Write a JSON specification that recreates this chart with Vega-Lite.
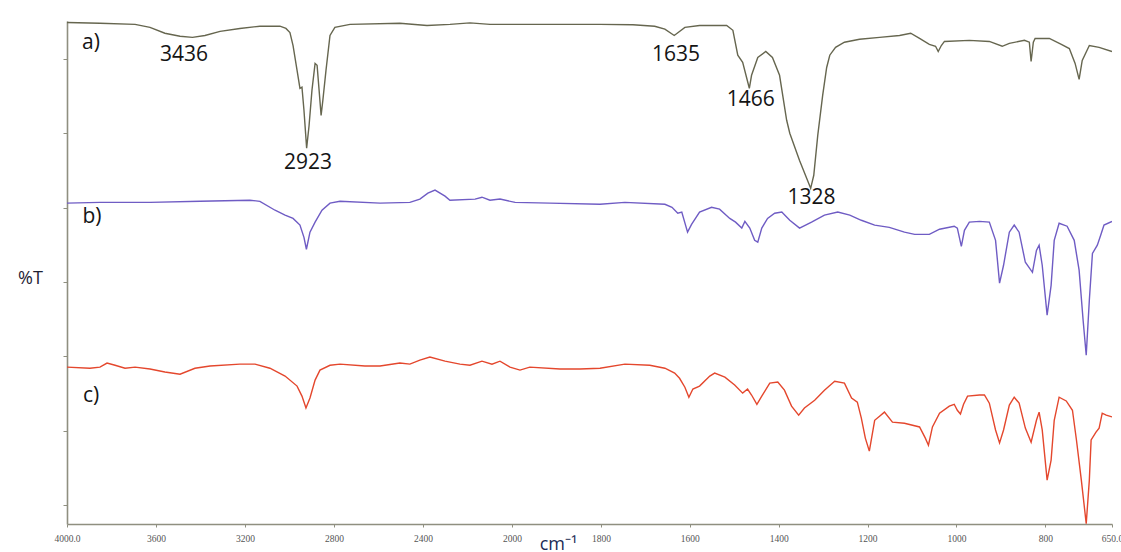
{
  "$schema": "https://vega.github.io/schema/vega-lite/v6.json",
  "width": 1045,
  "height": 503,
  "autosize": {"type": "none"},
  "padding": {"left": 67, "top": 21, "right": 9, "bottom": 28},
  "background": "white",
  "config": {
    "view": {"stroke": null},
    "axis": {"grid": false}
  },
  "datasets": {
    "spectra": [
      {"s":"a","wn":4000,"t":129.8},{"s":"a","wn":3852,"t":129.6},{"s":"a","wn":3694,"t":129.3},{"s":"a","wn":3627,"t":128.5},
      {"s":"a","wn":3560,"t":126.9},{"s":"a","wn":3492,"t":126.1},{"s":"a","wn":3436,"t":125.8},{"s":"a","wn":3380,"t":126.3},
      {"s":"a","wn":3312,"t":127.4},{"s":"a","wn":3223,"t":128.2},{"s":"a","wn":3133,"t":128.8},{"s":"a","wn":3043,"t":128.8},
      {"s":"a","wn":3016,"t":128.2},{"s":"a","wn":2998,"t":127.1},{"s":"a","wn":2984,"t":123.6},{"s":"a","wn":2966,"t":116.9},
      {"s":"a","wn":2953,"t":112.1},{"s":"a","wn":2944,"t":112.4},{"s":"a","wn":2935,"t":106.2},{"s":"a","wn":2923,"t":96.0},
      {"s":"a","wn":2912,"t":102.1},{"s":"a","wn":2899,"t":111.6},{"s":"a","wn":2885,"t":118.8},{"s":"a","wn":2876,"t":118.3},
      {"s":"a","wn":2867,"t":111.6},{"s":"a","wn":2858,"t":104.8},{"s":"a","wn":2850,"t":108.9},{"s":"a","wn":2836,"t":116.9},
      {"s":"a","wn":2818,"t":126.3},{"s":"a","wn":2796,"t":128.5},{"s":"a","wn":2728,"t":129.3},{"s":"a","wn":2504,"t":129.6},
      {"s":"a","wn":2382,"t":129.0},{"s":"a","wn":2279,"t":129.3},{"s":"a","wn":2189,"t":129.7},{"s":"a","wn":2099,"t":129.3},
      {"s":"a","wn":2000,"t":129.3},{"s":"a","wn":1892,"t":129.3},{"s":"a","wn":1802,"t":129.3},{"s":"a","wn":1728,"t":129.2},
      {"s":"a","wn":1679,"t":128.8},{"s":"a","wn":1656,"t":128.0},{"s":"a","wn":1635,"t":126.3},{"s":"a","wn":1611,"t":128.5},
      {"s":"a","wn":1578,"t":129.0},{"s":"a","wn":1517,"t":129.0},{"s":"a","wn":1503,"t":127.7},{"s":"a","wn":1492,"t":121.0},
      {"s":"a","wn":1481,"t":119.1},{"s":"a","wn":1466,"t":112.1},{"s":"a","wn":1461,"t":115.6},{"s":"a","wn":1447,"t":120.4},
      {"s":"a","wn":1429,"t":122.0},{"s":"a","wn":1414,"t":120.4},{"s":"a","wn":1398,"t":115.6},{"s":"a","wn":1382,"t":103.5},
      {"s":"a","wn":1375,"t":100.0},{"s":"a","wn":1353,"t":92.7},{"s":"a","wn":1328,"t":85.2},{"s":"a","wn":1321,"t":88.7},
      {"s":"a","wn":1312,"t":99.5},{"s":"a","wn":1301,"t":110.2},{"s":"a","wn":1292,"t":117.7},{"s":"a","wn":1285,"t":121.0},
      {"s":"a","wn":1272,"t":123.1},{"s":"a","wn":1252,"t":124.5},{"s":"a","wn":1218,"t":125.3},{"s":"a","wn":1173,"t":125.8},
      {"s":"a","wn":1128,"t":126.3},{"s":"a","wn":1103,"t":126.9},{"s":"a","wn":1083,"t":125.5},{"s":"a","wn":1061,"t":123.9},
      {"s":"a","wn":1047,"t":123.4},{"s":"a","wn":1041,"t":122.0},{"s":"a","wn":1034,"t":123.6},{"s":"a","wn":1027,"t":124.7},
      {"s":"a","wn":971,"t":125.0},{"s":"a","wn":926,"t":124.7},{"s":"a","wn":897,"t":123.4},{"s":"a","wn":881,"t":124.2},
      {"s":"a","wn":847,"t":125.0},{"s":"a","wn":836,"t":124.5},{"s":"a","wn":832,"t":119.3},{"s":"a","wn":827,"t":124.5},
      {"s":"a","wn":823,"t":125.5},{"s":"a","wn":791,"t":125.5},{"s":"a","wn":764,"t":123.9},{"s":"a","wn":746,"t":122.8},
      {"s":"a","wn":733,"t":118.8},{"s":"a","wn":724,"t":114.5},{"s":"a","wn":717,"t":119.6},{"s":"a","wn":701,"t":123.6},
      {"s":"a","wn":679,"t":123.1},{"s":"a","wn":650,"t":122.0},

      {"s":"b","wn":4000,"t":81.2},{"s":"b","wn":3852,"t":81.4},{"s":"b","wn":3627,"t":81.4},{"s":"b","wn":3402,"t":81.7},
      {"s":"b","wn":3178,"t":82.0},{"s":"b","wn":3133,"t":81.7},{"s":"b","wn":3065,"t":79.3},{"s":"b","wn":3020,"t":78.0},
      {"s":"b","wn":2984,"t":77.1},{"s":"b","wn":2953,"t":75.3},{"s":"b","wn":2935,"t":72.0},{"s":"b","wn":2924,"t":68.8},
      {"s":"b","wn":2908,"t":73.4},{"s":"b","wn":2885,"t":76.1},{"s":"b","wn":2854,"t":79.3},{"s":"b","wn":2818,"t":81.2},
      {"s":"b","wn":2773,"t":81.7},{"s":"b","wn":2593,"t":81.2},{"s":"b","wn":2459,"t":81.4},{"s":"b","wn":2414,"t":82.3},
      {"s":"b","wn":2378,"t":83.9},{"s":"b","wn":2346,"t":84.7},{"s":"b","wn":2301,"t":83.1},{"s":"b","wn":2279,"t":82.0},
      {"s":"b","wn":2166,"t":82.3},{"s":"b","wn":2135,"t":82.8},{"s":"b","wn":2099,"t":82.0},{"s":"b","wn":2054,"t":82.3},
      {"s":"b","wn":1993,"t":81.4},{"s":"b","wn":1915,"t":81.2},{"s":"b","wn":1802,"t":80.9},{"s":"b","wn":1746,"t":81.4},
      {"s":"b","wn":1656,"t":80.9},{"s":"b","wn":1640,"t":80.1},{"s":"b","wn":1627,"t":78.5},{"s":"b","wn":1618,"t":78.8},
      {"s":"b","wn":1605,"t":73.4},{"s":"b","wn":1596,"t":75.5},{"s":"b","wn":1578,"t":78.8},{"s":"b","wn":1551,"t":80.1},
      {"s":"b","wn":1533,"t":79.6},{"s":"b","wn":1510,"t":77.1},{"s":"b","wn":1497,"t":76.1},{"s":"b","wn":1483,"t":74.5},
      {"s":"b","wn":1476,"t":76.3},{"s":"b","wn":1465,"t":74.5},{"s":"b","wn":1454,"t":71.2},{"s":"b","wn":1447,"t":70.7},
      {"s":"b","wn":1438,"t":74.5},{"s":"b","wn":1425,"t":77.1},{"s":"b","wn":1409,"t":78.5},{"s":"b","wn":1393,"t":78.8},
      {"s":"b","wn":1375,"t":76.6},{"s":"b","wn":1353,"t":74.5},{"s":"b","wn":1326,"t":76.1},{"s":"b","wn":1297,"t":78.0},
      {"s":"b","wn":1267,"t":78.8},{"s":"b","wn":1240,"t":78.0},{"s":"b","wn":1214,"t":76.6},{"s":"b","wn":1184,"t":75.3},
      {"s":"b","wn":1151,"t":74.7},{"s":"b","wn":1117,"t":73.4},{"s":"b","wn":1094,"t":72.8},{"s":"b","wn":1061,"t":72.8},
      {"s":"b","wn":1038,"t":74.2},{"s":"b","wn":1005,"t":75.0},{"s":"b","wn":998,"t":74.5},{"s":"b","wn":989,"t":69.6},
      {"s":"b","wn":982,"t":73.9},{"s":"b","wn":971,"t":76.1},{"s":"b","wn":948,"t":76.3},{"s":"b","wn":926,"t":76.1},
      {"s":"b","wn":912,"t":71.2},{"s":"b","wn":903,"t":59.7},{"s":"b","wn":894,"t":64.5},{"s":"b","wn":881,"t":73.4},
      {"s":"b","wn":870,"t":75.3},{"s":"b","wn":859,"t":73.4},{"s":"b","wn":845,"t":65.3},{"s":"b","wn":829,"t":62.6},
      {"s":"b","wn":820,"t":68.5},{"s":"b","wn":814,"t":69.9},{"s":"b","wn":807,"t":64.5},{"s":"b","wn":796,"t":51.1},
      {"s":"b","wn":787,"t":59.1},{"s":"b","wn":780,"t":71.2},{"s":"b","wn":769,"t":75.8},{"s":"b","wn":751,"t":75.0},
      {"s":"b","wn":735,"t":71.2},{"s":"b","wn":724,"t":63.2},{"s":"b","wn":715,"t":49.7},{"s":"b","wn":708,"t":40.3},
      {"s":"b","wn":701,"t":55.1},{"s":"b","wn":694,"t":67.7},{"s":"b","wn":683,"t":69.9},{"s":"b","wn":674,"t":73.1},
      {"s":"b","wn":668,"t":75.3},{"s":"b","wn":650,"t":76.3},

      {"s":"c","wn":4000,"t":37.1},{"s":"c","wn":3897,"t":36.8},{"s":"c","wn":3852,"t":37.1},{"s":"c","wn":3820,"t":38.2},
      {"s":"c","wn":3784,"t":37.6},{"s":"c","wn":3739,"t":36.8},{"s":"c","wn":3694,"t":37.1},{"s":"c","wn":3627,"t":36.6},
      {"s":"c","wn":3560,"t":35.8},{"s":"c","wn":3492,"t":35.2},{"s":"c","wn":3425,"t":36.8},{"s":"c","wn":3357,"t":37.4},
      {"s":"c","wn":3223,"t":37.9},{"s":"c","wn":3155,"t":37.9},{"s":"c","wn":3088,"t":36.8},{"s":"c","wn":3020,"t":34.7},
      {"s":"c","wn":2966,"t":32.0},{"s":"c","wn":2944,"t":29.3},{"s":"c","wn":2926,"t":26.1},{"s":"c","wn":2908,"t":28.8},
      {"s":"c","wn":2885,"t":33.6},{"s":"c","wn":2863,"t":36.3},{"s":"c","wn":2818,"t":37.6},{"s":"c","wn":2773,"t":37.9},
      {"s":"c","wn":2661,"t":37.4},{"s":"c","wn":2593,"t":37.4},{"s":"c","wn":2504,"t":38.2},{"s":"c","wn":2459,"t":37.9},
      {"s":"c","wn":2414,"t":39.0},{"s":"c","wn":2369,"t":39.8},{"s":"c","wn":2301,"t":38.7},{"s":"c","wn":2234,"t":37.9},
      {"s":"c","wn":2189,"t":37.6},{"s":"c","wn":2135,"t":38.7},{"s":"c","wn":2090,"t":37.9},{"s":"c","wn":2054,"t":38.7},
      {"s":"c","wn":2009,"t":37.1},{"s":"c","wn":1982,"t":36.3},{"s":"c","wn":1960,"t":37.1},{"s":"c","wn":1892,"t":36.6},
      {"s":"c","wn":1847,"t":36.6},{"s":"c","wn":1802,"t":36.8},{"s":"c","wn":1746,"t":37.9},{"s":"c","wn":1690,"t":37.6},
      {"s":"c","wn":1656,"t":36.8},{"s":"c","wn":1634,"t":35.5},{"s":"c","wn":1623,"t":34.1},{"s":"c","wn":1611,"t":31.7},
      {"s":"c","wn":1602,"t":29.0},{"s":"c","wn":1593,"t":31.2},{"s":"c","wn":1578,"t":32.0},{"s":"c","wn":1555,"t":34.7},
      {"s":"c","wn":1544,"t":35.5},{"s":"c","wn":1521,"t":34.4},{"s":"c","wn":1499,"t":32.3},{"s":"c","wn":1481,"t":30.1},
      {"s":"c","wn":1470,"t":31.2},{"s":"c","wn":1461,"t":29.6},{"s":"c","wn":1449,"t":27.1},{"s":"c","wn":1438,"t":29.3},
      {"s":"c","wn":1420,"t":32.8},{"s":"c","wn":1402,"t":33.1},{"s":"c","wn":1387,"t":30.9},{"s":"c","wn":1371,"t":26.6},
      {"s":"c","wn":1355,"t":24.2},{"s":"c","wn":1342,"t":26.1},{"s":"c","wn":1319,"t":28.2},{"s":"c","wn":1297,"t":30.9},
      {"s":"c","wn":1274,"t":33.3},{"s":"c","wn":1252,"t":32.8},{"s":"c","wn":1236,"t":28.8},{"s":"c","wn":1223,"t":27.7},
      {"s":"c","wn":1214,"t":23.4},{"s":"c","wn":1205,"t":18.0},{"s":"c","wn":1196,"t":14.5},{"s":"c","wn":1184,"t":22.8},
      {"s":"c","wn":1173,"t":23.9},{"s":"c","wn":1162,"t":25.0},{"s":"c","wn":1144,"t":22.3},{"s":"c","wn":1117,"t":22.0},
      {"s":"c","wn":1083,"t":21.0},{"s":"c","wn":1070,"t":18.0},{"s":"c","wn":1063,"t":16.1},{"s":"c","wn":1054,"t":21.0},
      {"s":"c","wn":1038,"t":24.7},{"s":"c","wn":1016,"t":26.6},{"s":"c","wn":1005,"t":27.1},{"s":"c","wn":998,"t":25.5},
      {"s":"c","wn":991,"t":24.5},{"s":"c","wn":984,"t":27.1},{"s":"c","wn":975,"t":29.3},{"s":"c","wn":948,"t":29.6},
      {"s":"c","wn":937,"t":29.6},{"s":"c","wn":926,"t":27.4},{"s":"c","wn":912,"t":20.2},{"s":"c","wn":903,"t":16.7},
      {"s":"c","wn":894,"t":20.2},{"s":"c","wn":881,"t":26.9},{"s":"c","wn":870,"t":29.0},{"s":"c","wn":859,"t":27.4},
      {"s":"c","wn":845,"t":20.7},{"s":"c","wn":832,"t":16.9},{"s":"c","wn":820,"t":22.8},{"s":"c","wn":814,"t":25.0},
      {"s":"c","wn":807,"t":20.2},{"s":"c","wn":796,"t":6.7},{"s":"c","wn":787,"t":12.1},{"s":"c","wn":780,"t":22.8},
      {"s":"c","wn":769,"t":29.0},{"s":"c","wn":753,"t":28.0},{"s":"c","wn":739,"t":25.5},{"s":"c","wn":730,"t":17.5},
      {"s":"c","wn":719,"t":6.7},{"s":"c","wn":708,"t":-5.0},{"s":"c","wn":701,"t":6.7},{"s":"c","wn":697,"t":17.5},
      {"s":"c","wn":686,"t":19.6},{"s":"c","wn":679,"t":20.7},{"s":"c","wn":672,"t":24.7},{"s":"c","wn":663,"t":24.2},
      {"s":"c","wn":650,"t":23.7}
    ],
    "labels": [
      {"text":"a)","wn":3892,"t":124.2},
      {"text":"b)","wn":3888,"t":77.4},
      {"text":"c)","wn":3892,"t":29.3},
      {"text":"3436","wn":3474,"t":121.0},
      {"text":"2923","wn":2917,"t":91.9},
      {"text":"1635","wn":1631,"t":121.0},
      {"text":"1466","wn":1463,"t":108.9},
      {"text":"1328","wn":1326,"t":82.5}
    ]
  },
  "layer": [
    {
      "data": {"name": "spectra"},
      "mark": {"type": "line", "strokeWidth": 1.4, "clip": true, "interpolate": "linear"},
      "encoding": {
        "x": {
          "field": "wn",
          "type": "quantitative",
          "scale": {"type": "linear", "domain": [4000, 2000, 650], "range": [0, 445, 1045], "nice": false, "zero": false},
          "axis": {
            "title": "cm⁻¹",
            "titleFont": "Open Sans",
            "titleFontSize": 18,
            "titleFontWeight": "normal",
            "titleColor": "#1c2b55",
            "titleX": 491,
            "titleY": 25,
            "titleAlign": "center",
            "titleBaseline": "alphabetic",
            "values": [4000, 3600, 3200, 2800, 2400, 2000, 1800, 1600, 1400, 1200, 1000, 800, 650],
            "format": "d",
            "labelExpr": "datum.value == 4000 ? '4000.0' : datum.value == 650 ? '650.0' : datum.label",
            "labelFont": "Liberation Serif",
            "labelFontSize": 9.5,
            "labelColor": "#555555",
            "labelPadding": 6,
            "labelFlush": false,
            "labelOverlap": false,
            "domainColor": "#8f8f80",
            "domainWidth": 1.6,
            "tickColor": "#8f8f80",
            "tickSize": 3
          }
        },
        "y": {
          "field": "t",
          "type": "quantitative",
          "scale": {"domain": [-5.1, 130.2], "nice": false, "zero": false},
          "axis": {
            "title": "%T",
            "titleFont": "Open Sans",
            "titleFontSize": 18,
            "titleFontWeight": "normal",
            "titleColor": "#1e2233",
            "titleAngle": 0,
            "titleAlign": "center",
            "titleBaseline": "middle",
            "titleX": -37,
            "titleY": 257,
            "values": [0, 10, 20, 30, 40, 50, 60, 70, 80, 90, 100, 110, 120, 130],
            "labels": false,
            "domainColor": "#8f8f80",
            "domainWidth": 1.6,
            "tickColor": "#8f8f80",
            "tickSize": 4
          }
        },
        "color": {
          "field": "s",
          "type": "nominal",
          "scale": {"domain": ["a", "b", "c"], "range": ["#66664f", "#6f5cc4", "#e4472d"]},
          "legend": null
        }
      }
    },
    {
      "data": {"name": "labels"},
      "mark": {"type": "text", "font": "Open Sans", "fontSize": 21, "color": "#141414", "align": "center", "baseline": "middle"},
      "encoding": {
        "x": {"field": "wn", "type": "quantitative"},
        "y": {"field": "t", "type": "quantitative"},
        "text": {"field": "text"}
      }
    }
  ]
}
